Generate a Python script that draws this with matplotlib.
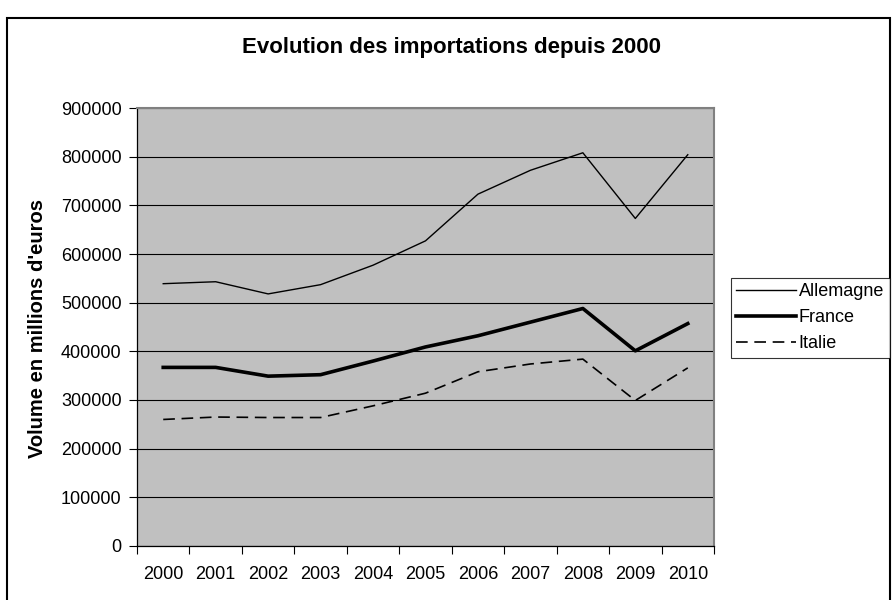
import matplotlib.pyplot as plt
from matplotlib.patches import Rectangle

annees = ["2000", "2001", "2002", "2003", "2004", "2005", "2006", "2007", "2008", "2009", "2010"]
allemagne = [539000, 543000, 518000, 537000, 577000, 627000, 723000, 772000, 808000, 673000, 804000]
france = [367000, 367000, 349000, 352000, 380000, 409000, 432000, 460000, 488000, 401000, 457000]
italie = [260000, 265000, 264000, 264000, 288000, 314000, 358000, 374000, 384000, 299000, 366000]

plt.rcParams['font.family'] = ['Liberation Sans', 'DejaVu Sans']

fig = plt.figure(figsize=(8.92, 6), dpi=100)
ax = fig.add_axes([137 / 892, 54 / 600, 577 / 892, 438 / 600])
ax.set_facecolor("#c0c0c0")

x = range(len(annees))
ax.plot(x, allemagne, color="black", lw=1.0, label="Allemagne")
ax.plot(x, france, color="black", lw=2.6, label="France")
ax.plot(x, italie, color="black", lw=1.2, dashes=(7, 4), label="Italie")

ax.set_ylim(0, 900000)
ax.set_yticks(range(0, 900001, 100000))
ax.yaxis.grid(True, color="black", lw=0.8)
ax.set_axisbelow(True)

# annees au centre, traits de graduation entre les categories
ax.set_xlim(-0.5, len(annees) - 0.5)
ax.set_xticks(list(x))
ax.set_xticklabels(annees)
ax.set_xticks([i - 0.5 for i in range(len(annees) + 1)], minor=True)
ax.tick_params(axis="x", which="major", length=0, pad=14.5, labelsize=13)
ax.tick_params(axis="x", which="minor", length=5.5, width=0.8, direction="out")
ax.tick_params(axis="y", length=5.5, width=0.8, pad=5.5, labelsize=13)

ax.spines["top"].set_color("#808080")
ax.spines["right"].set_color("#808080")
ax.spines["top"].set_linewidth(1.5)
ax.spines["right"].set_linewidth(1.5)
ax.spines["left"].set_linewidth(0.9)
ax.spines["bottom"].set_linewidth(0.9)

fig.text(452 / 892, 1 - 53 / 600, "Evolution des importations depuis 2000",
         ha="center", va="baseline", fontsize=16, fontweight="bold")
fig.text(38 / 892, 1 - 329 / 600, "Volume en millions d'euros",
         ha="center", va="center", rotation=90, fontsize=14.5, fontweight="bold")

leg = fig.legend(loc="upper left", bbox_to_anchor=(731 / 892, 1 - 278 / 600),
                 fontsize=13, frameon=True, fancybox=False, edgecolor="black",
                 handlelength=3.3, handletextpad=0.15, labelspacing=0.5,
                 borderpad=0.3, borderaxespad=0)
leg.get_frame().set_linewidth(0.8)

# cadre autour du graphique
fig.patches.append(Rectangle((7 / 892, -0.01), 883 / 892, 582 / 600 + 0.01,
                             transform=fig.transFigure, fill=False,
                             edgecolor="black", lw=1.5))

fig.savefig("out.png", dpi=100)
